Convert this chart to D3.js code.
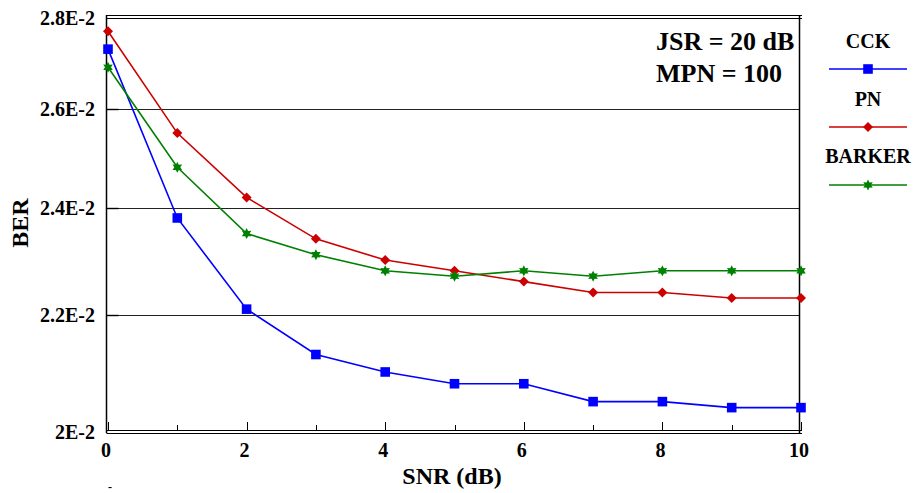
<!DOCTYPE html>
<html>
<head>
<meta charset="utf-8">
<script src="https://cdn.jsdelivr.net/npm/d3@7"></script>
<style>
  html, body { margin: 0; padding: 0; background: #fff; }
  svg { display: block; }
  text { font-family: "Liberation Serif", "Tinos", "Times New Roman", "DejaVu Serif Condensed", "DejaVu Serif", serif; font-weight: bold; fill: #000; }
</style>
</head>
<body>
<svg id="chart" width="914" height="493"></svg>
<script>
// ---- data ----
const snr = [0, 1, 2, 3, 4, 5, 6, 7, 8, 9, 10];
const cck = [0.0273, 0.0238, 0.0221, 0.0213, 0.0210, 0.0208, 0.0208, 0.0205, 0.0205, 0.0204, 0.0204];
const pn = [0.0277, 0.0255, 0.0242, 0.0234, 0.0230, 0.0228, 0.0226, 0.0224, 0.0224, 0.0223, 0.0223];
const barker = [0.0269, 0.0248, 0.0235, 0.0231, 0.0228, 0.0227, 0.0228, 0.0227, 0.0228, 0.0228, 0.0228];
const seriesNames = ["CCK", "PN", "BARKER"];
const yTickValues = [0.020, 0.022, 0.024, 0.026, 0.028];
const yTickLabels = ["2E-2", "2.2E-2", "2.4E-2", "2.6E-2", "2.8E-2"];
const xTickLabels = ["0", "2", "4", "6", "8", "10"];
const annotations = ["JSR = 20 dB", "MPN = 100"];

(function () {
const svg = d3.select("#chart");
const pLeft = 106.5, pRight = 799.5;
const x = d3.scaleLinear().domain([0, 10]).range([108, 801]);
const y = d3.scaleLog().domain([0.020, 0.028]).range([432, 18]);

const colors = { CCK: "#0000ff", PN: "#cc0000", BARKER: "#008000" };
const seriesData = [
  { name: "CCK", values: cck },
  { name: "PN", values: pn },
  { name: "BARKER", values: barker }
];

// gridlines
const midTicks = yTickValues.slice(1, 4);
svg.append("g").selectAll("line").data(midTicks).join("line")
  .attr("x1", pLeft).attr("x2", pRight)
  .attr("y1", d => Math.round(y(d)) + 0.5).attr("y2", d => Math.round(y(d)) + 0.5)
  .attr("stroke", "#222").attr("stroke-width", 1);
svg.append("g").selectAll("line").data(midTicks).join("line")
  .attr("x1", pLeft).attr("x2", pLeft + 12)
  .attr("y1", d => Math.round(y(d)) + 0.5).attr("y2", d => Math.round(y(d)) + 0.5)
  .attr("stroke", "#000").attr("stroke-width", 1.4);

// frame
const frame = svg.append("g").attr("stroke", "#000").attr("fill", "none");
frame.append("line").attr("x1", pLeft).attr("x2", 802).attr("y1", 15.5).attr("y2", 15.5).attr("stroke-width", 1);
frame.append("line").attr("x1", pLeft).attr("x2", 802).attr("y1", 18.5).attr("y2", 18.5).attr("stroke-width", 1);
frame.append("line").attr("x1", pLeft).attr("x2", pLeft).attr("y1", 15).attr("y2", 433).attr("stroke-width", 1.5);
frame.append("line").attr("x1", pRight).attr("x2", pRight).attr("y1", 15).attr("y2", 433).attr("stroke-width", 1.5);
frame.append("line").attr("x1", pLeft).attr("x2", 802).attr("y1", 430.5).attr("y2", 430.5).attr("stroke-width", 1);
frame.append("line").attr("x1", pLeft).attr("x2", 802).attr("y1", 433.5).attr("y2", 433.5).attr("stroke-width", 1);

// x ticks (upward)
svg.append("g").selectAll("line").data(d3.range(0, 11)).join("line")
  .attr("x1", d => Math.round(x(d)) + 0.5).attr("x2", d => Math.round(x(d)) + 0.5)
  .attr("y1", 430).attr("y2", d => d % 2 === 0 ? 422 : 425)
  .attr("stroke", "#000").attr("stroke-width", 1);

// x tick labels
svg.append("g").selectAll("text").data(xTickLabels).join("text")
  .attr("x", d => x(+d) - 2).attr("y", 457)
  .attr("text-anchor", "middle").attr("font-size", 20)
  .text(d => d);

// y tick labels
svg.append("g").selectAll("text").data(yTickValues).join("text")
  .attr("x", 95).attr("y", d => y(d)).attr("dy", "0.35em")
  .attr("text-anchor", "end").attr("font-size", 20)
  .text((d, i) => yTickLabels[i]);

// axis titles
svg.append("text").attr("x", 452).attr("y", 484).attr("text-anchor", "middle")
  .attr("font-size", 24).text("SNR (dB)");
svg.append("text").attr("transform", "translate(28,223) rotate(-90)")
  .attr("text-anchor", "middle").attr("font-size", 24).text("BER");
svg.append("text").attr("x", 110).attr("y", 491).attr("text-anchor", "middle")
  .attr("font-size", 12).attr("font-weight", "normal").text("-");

// annotations
svg.append("g").selectAll("text").data(annotations).join("text")
  .attr("x", 656).attr("y", (d, i) => 50 + i * 32)
  .attr("font-size", 26).text(d => d);

function markerPath(name) {
  if (name === "CCK") {
    const h = 4.8;
    return `M${-h},${-h}L${h},${-h}L${h},${h}L${-h},${h}Z`;
  }
  if (name === "PN") {
    const r = 5;
    return `M0,${-r}L${r},0L0,${r}L${-r},0Z`;
  }
  const pts = [];
  const n = 6, ro = 5.5, ri = 3;
  for (let i = 0; i < n * 2; i++) {
    const a = Math.PI * i / n - Math.PI / 2;
    const r = i % 2 === 0 ? ro : ri;
    pts.push([r * Math.cos(a), r * Math.sin(a)]);
  }
  return "M" + pts.map(p => p[0].toFixed(2) + "," + p[1].toFixed(2)).join("L") + "Z";
}

const line = d3.line().x((d, i) => x(snr[i])).y(d => y(d));

["CCK", "PN", "BARKER"].forEach(name => {
  const s = seriesData.find(d => d.name === name);
  svg.append("path").datum(s.values)
    .attr("d", line).attr("fill", "none")
    .attr("stroke", colors[name]).attr("stroke-width", 1.6);
  svg.append("g").selectAll("path").data(s.values).join("path")
    .attr("transform", (d, i) => `translate(${x(snr[i])},${y(d)})`)
    .attr("d", markerPath(name))
    .attr("fill", colors[name]);
});

// legend
const legendY = [{ t: 48, l: 69 }, { t: 106, l: 127 }, { t: 163, l: 185 }];
seriesNames.forEach((name, i) => {
  const g = svg.append("g");
  g.append("text").attr("x", 868).attr("y", legendY[i].t)
    .attr("text-anchor", "middle").attr("font-size", 20).text(name);
  g.append("line").attr("x1", 829).attr("x2", 907)
    .attr("y1", legendY[i].l).attr("y2", legendY[i].l)
    .attr("stroke", colors[name]).attr("stroke-width", 1.6);
  g.append("path").attr("transform", `translate(868,${legendY[i].l})`)
    .attr("d", markerPath(name)).attr("fill", colors[name]);
});
})();
</script>
</body>
</html>
